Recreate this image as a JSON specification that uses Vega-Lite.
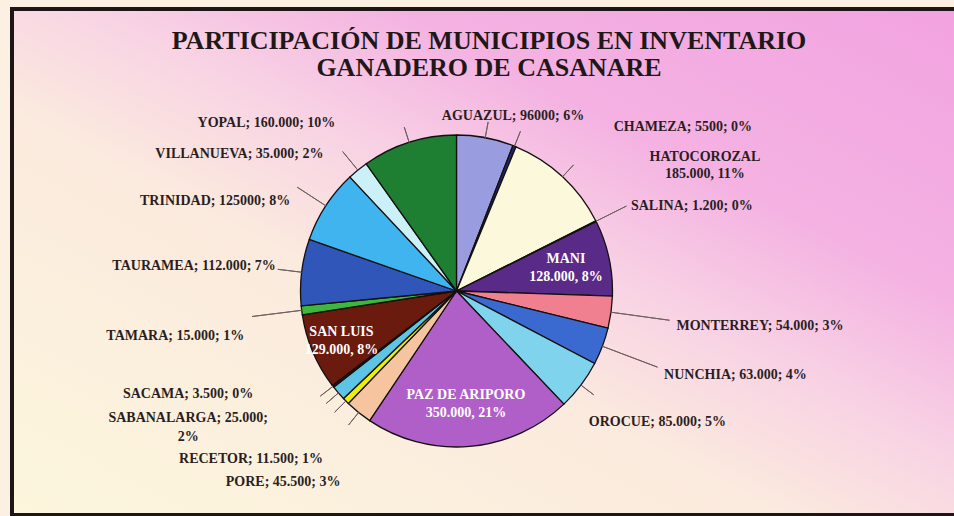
{
  "$schema": "https://vega.github.io/schema/vega-lite/v6.json",
  "autosize": {"type": "fit", "contains": "padding"},
  "width": 954,
  "height": 516,
  "padding": {"left": 12, "top": 9, "right": -20, "bottom": -17},
  "background": "#fbf0e2",
  "view": {
    "fill": {
      "gradient": "linear", "x1": 0, "y1": 1, "x2": 1, "y2": 0,
      "stops": [
        {"offset": 0, "color": "#fcf6dc"},
        {"offset": 0.4, "color": "#fbeade"},
        {"offset": 0.55, "color": "#f8d2e4"},
        {"offset": 0.7, "color": "#f4b2e2"},
        {"offset": 1, "color": "#f2a2e0"}
      ]
    },
    "stroke": "#1e1616",
    "strokeWidth": 4
  },
  "title": {
    "text": ["PARTICIPACIÓN DE MUNICIPIOS EN INVENTARIO", "GANADERO DE CASANARE"],
    "font": "Liberation Serif",
    "fontSize": 26,
    "fontWeight": "bold",
    "color": "#1e1818",
    "lineHeight": 27,
    "anchor": "middle",
    "offset": -72,
    "dx": -4
  },
  "config": {
    "text": {
      "font": "Liberation Serif",
      "fontSize": 14,
      "fontWeight": "bold",
      "fill": "#2a1e1e",
      "baseline": "middle",
      "lineBreak": "\n",
      "lineHeight": 18
    }
  },
  "data": {
    "values": [
      {"municipio": "AGUAZUL", "valor": 96000, "etiqueta": "AGUAZUL; 96000; 6%"},
      {"municipio": "CHAMEZA", "valor": 5500, "etiqueta": "CHAMEZA; 5500; 0%"},
      {"municipio": "HATOCOROZAL", "valor": 185000, "etiqueta": "HATOCOROZAL\n185.000, 11%"},
      {"municipio": "LA SALINA", "valor": 1200, "etiqueta": "SALINA; 1.200; 0%"},
      {"municipio": "MANI", "valor": 128000, "etiqueta": "MANI\n128.000, 8%"},
      {"municipio": "MONTERREY", "valor": 54000, "etiqueta": "MONTERREY; 54.000; 3%"},
      {"municipio": "NUNCHIA", "valor": 63000, "etiqueta": "NUNCHIA; 63.000; 4%"},
      {"municipio": "OROCUE", "valor": 85000, "etiqueta": "OROCUE; 85.000; 5%"},
      {"municipio": "PAZ DE ARIPORO", "valor": 350000, "etiqueta": "PAZ DE ARIPORO\n350.000, 21%"},
      {"municipio": "PORE", "valor": 45500, "etiqueta": "PORE; 45.500; 3%"},
      {"municipio": "RECETOR", "valor": 11500, "etiqueta": "RECETOR; 11.500; 1%"},
      {"municipio": "SABANALARGA", "valor": 25000, "etiqueta": "SABANALARGA; 25.000;\n2%"},
      {"municipio": "SACAMA", "valor": 3500, "etiqueta": "SACAMA; 3.500; 0%"},
      {"municipio": "SAN LUIS", "valor": 129000, "etiqueta": "SAN LUIS\n129.000, 8%"},
      {"municipio": "TAMARA", "valor": 15000, "etiqueta": "TAMARA; 15.000; 1%"},
      {"municipio": "TAURAMEA", "valor": 112000, "etiqueta": "TAURAMEA; 112.000; 7%"},
      {"municipio": "TRINIDAD", "valor": 125000, "etiqueta": "TRINIDAD; 125000; 8%"},
      {"municipio": "VILLANUEVA", "valor": 35000, "etiqueta": "VILLANUEVA; 35.000; 2%"},
      {"municipio": "YOPAL", "valor": 160000, "etiqueta": "YOPAL; 160.000; 10%"}
    ]
  },
  "encoding": {
    "theta": {"field": "valor", "type": "quantitative", "stack": true},
    "order": {"field": "municipio", "type": "ordinal", "sort": "ascending"},
    "detail": {"field": "municipio", "type": "nominal"}
  },
  "layer": [
    {
      "mark": {"type": "arc", "radius": 156, "stroke": "#141010", "strokeWidth": 1.3,
               "x": {"expr": "width/2-36.5"}, "y": {"expr": "height/2+29"}},
      "encoding": {
        "color": {
          "field": "municipio", "type": "nominal", "legend": null,
          "scale": {
            "domain": ["AGUAZUL", "CHAMEZA", "HATOCOROZAL", "LA SALINA", "MANI", "MONTERREY", "NUNCHIA", "OROCUE", "PAZ DE ARIPORO", "PORE", "RECETOR", "SABANALARGA", "SACAMA", "SAN LUIS", "TAMARA", "TAURAMEA", "TRINIDAD", "VILLANUEVA", "YOPAL"],
            "range": ["#9a9ce0", "#1c2a6a", "#fbf8dc", "#1f5a5a", "#5a2a88", "#f07f90", "#3a6ad0", "#80d3ec", "#b05ec8", "#f7c4a0", "#eef000", "#5cc4e4", "#2a1a22", "#6b1a0e", "#3cb83c", "#2f56b8", "#40b4ee", "#ccf0f8", "#1e7e32"]
          }
        }
      }
    },
    {
      "mark": {"type": "arc", "radius": 172, "radius2": 156, "padAngle": 3, "filled": false, "stroke": "#6e6060", "strokeWidth": 1,
               "x": {"expr": "width/2-36.5"}, "y": {"expr": "height/2+29"}},
      "encoding": {"strokeOpacity": {"condition": {"test": "indexof(['CHAMEZA','HATOCOROZAL','OROCUE','AGUAZUL','YOPAL','SACAMA','SABANALARGA','RECETOR','PORE'], datum.municipio) >= 0", "value": 1}, "value": 0}}
    },
    {
      "mark": {"type": "arc", "radius": 180, "radius2": 156, "padAngle": 3, "filled": false, "stroke": "#6e6060", "strokeWidth": 1,
               "x": {"expr": "width/2-36.5"}, "y": {"expr": "height/2+29"}},
      "encoding": {"strokeOpacity": {"condition": {"test": "indexof(['VILLANUEVA','TAURAMEA'], datum.municipio) >= 0", "value": 1}, "value": 0}}
    },
    {
      "mark": {"type": "arc", "radius": 190, "radius2": 156, "padAngle": 3, "filled": false, "stroke": "#6e6060", "strokeWidth": 1,
               "x": {"expr": "width/2-36.5"}, "y": {"expr": "height/2+29"}},
      "encoding": {"strokeOpacity": {"condition": {"test": "indexof(['LA SALINA','TRINIDAD'], datum.municipio) >= 0", "value": 1}, "value": 0}}
    },
    {
      "mark": {"type": "arc", "radius": 206, "radius2": 156, "padAngle": 3, "filled": false, "stroke": "#6e6060", "strokeWidth": 1,
               "x": {"expr": "width/2-36.5"}, "y": {"expr": "height/2+29"}},
      "encoding": {"strokeOpacity": {"condition": {"test": "datum.municipio === 'TAMARA'", "value": 1}, "value": 0}}
    },
    {
      "mark": {"type": "arc", "radius": 215, "radius2": 156, "padAngle": 3, "filled": false, "stroke": "#6e6060", "strokeWidth": 1,
               "x": {"expr": "width/2-36.5"}, "y": {"expr": "height/2+29"}},
      "encoding": {"strokeOpacity": {"condition": {"test": "indexof(['MONTERREY','NUNCHIA'], datum.municipio) >= 0", "value": 1}, "value": 0}}
    },
    {
      "mark": {"type": "text", "radius": 222, "align": "left", "dy": 5, "x": {"expr": "width/2-36.5"}, "y": {"expr": "height/2+29"}},
      "encoding": {"text": {"condition": {"test": "indexof(['MONTERREY','NUNCHIA'], datum.municipio) >= 0", "field": "etiqueta"}, "value": ""}}
    },
    {
      "mark": {"type": "text", "radius": 195, "align": "left", "dy": 2, "x": {"expr": "width/2-36.5"}, "y": {"expr": "height/2+29"}},
      "encoding": {"text": {"condition": {"test": "datum.municipio === 'LA SALINA'", "field": "etiqueta"}, "value": ""}}
    },
    {
      "mark": {"type": "text", "radius": 178, "align": "left", "dx": 91, "dy": 1, "x": {"expr": "width/2-36.5"}, "y": {"expr": "height/2+29"}},
      "encoding": {"text": {"condition": {"test": "datum.municipio === 'CHAMEZA'", "field": "etiqueta"}, "value": ""}}
    },
    {
      "mark": {"type": "text", "radius": 180, "align": "center", "dx": 126, "dy": -2, "lineHeight": 17, "x": {"expr": "width/2-36.5"}, "y": {"expr": "height/2+29"}},
      "encoding": {"text": {"condition": {"test": "datum.municipio === 'HATOCOROZAL'", "field": "etiqueta"}, "value": ""}}
    },
    {
      "mark": {"type": "text", "radius": 186, "align": "left", "dx": -16, "dy": 19, "x": {"expr": "width/2-36.5"}, "y": {"expr": "height/2+29"}},
      "encoding": {"text": {"condition": {"test": "datum.municipio === 'OROCUE'", "field": "etiqueta"}, "value": ""}}
    },
    {
      "mark": {"type": "text", "radius": 182, "align": "center", "dx": 23, "dy": 4, "x": {"expr": "width/2-36.5"}, "y": {"expr": "height/2+29"}},
      "encoding": {"text": {"condition": {"test": "datum.municipio === 'AGUAZUL'", "field": "etiqueta"}, "value": ""}}
    },
    {
      "mark": {"type": "text", "radius": 175, "align": "right", "dx": -68, "dy": -1, "x": {"expr": "width/2-36.5"}, "y": {"expr": "height/2+29"}},
      "encoding": {"text": {"condition": {"test": "datum.municipio === 'YOPAL'", "field": "etiqueta"}, "value": ""}}
    },
    {
      "mark": {"type": "text", "radius": 185, "align": "right", "dx": -16, "dy": 6, "x": {"expr": "width/2-36.5"}, "y": {"expr": "height/2+29"}},
      "encoding": {"text": {"condition": {"test": "datum.municipio === 'VILLANUEVA'", "field": "etiqueta"}, "value": ""}}
    },
    {
      "mark": {"type": "text", "radius": 195, "align": "right", "dx": -3, "dy": 16, "x": {"expr": "width/2-36.5"}, "y": {"expr": "height/2+29"}},
      "encoding": {"text": {"condition": {"test": "datum.municipio === 'TRINIDAD'", "field": "etiqueta"}, "value": ""}}
    },
    {
      "mark": {"type": "text", "radius": 182, "align": "right", "dy": -3, "x": {"expr": "width/2-36.5"}, "y": {"expr": "height/2+29"}},
      "encoding": {"text": {"condition": {"test": "datum.municipio === 'TAURAMEA'", "field": "etiqueta"}, "value": ""}}
    },
    {
      "mark": {"type": "text", "radius": 212, "align": "right", "dx": -2, "dy": 19, "x": {"expr": "width/2-36.5"}, "y": {"expr": "height/2+29"}},
      "encoding": {"text": {"condition": {"test": "datum.municipio === 'TAMARA'", "field": "etiqueta"}, "value": ""}}
    },
    {
      "mark": {"type": "text", "radius": 200, "align": "right", "dx": -45, "dy": -19, "x": {"expr": "width/2-36.5"}, "y": {"expr": "height/2+29"}},
      "encoding": {"text": {"condition": {"test": "datum.municipio === 'SACAMA'", "field": "etiqueta"}, "value": ""}}
    },
    {
      "mark": {"type": "text", "radius": 200, "align": "center", "dx": -117, "dy": -4, "lineHeight": 19, "x": {"expr": "width/2-36.5"}, "y": {"expr": "height/2+29"}},
      "encoding": {"text": {"condition": {"test": "datum.municipio === 'SABANALARGA'", "field": "etiqueta"}, "value": ""}}
    },
    {
      "mark": {"type": "text", "radius": 215, "align": "right", "dx": 19, "dy": 16, "x": {"expr": "width/2-36.5"}, "y": {"expr": "height/2+29"}},
      "encoding": {"text": {"condition": {"test": "datum.municipio === 'RECETOR'", "field": "etiqueta"}, "value": ""}}
    },
    {
      "mark": {"type": "text", "radius": 220, "align": "right", "dx": 22, "dy": 20, "x": {"expr": "width/2-36.5"}, "y": {"expr": "height/2+29"}},
      "encoding": {"text": {"condition": {"test": "datum.municipio === 'PORE'", "field": "etiqueta"}, "value": ""}}
    },
    {
      "mark": {"type": "text", "radius": 112, "align": "center", "dy": -8, "fill": "#ffffff", "x": {"expr": "width/2-36.5"}, "y": {"expr": "height/2+29"}},
      "encoding": {"text": {"condition": {"test": "indexof(['MANI','PAZ DE ARIPORO'], datum.municipio) >= 0", "field": "etiqueta"}, "value": ""}}
    },
    {
      "mark": {"type": "text", "radius": 125, "align": "center", "dy": -8, "fill": "#ffffff", "x": {"expr": "width/2-36.5"}, "y": {"expr": "height/2+29"}},
      "encoding": {"text": {"condition": {"test": "datum.municipio === 'SAN LUIS'", "field": "etiqueta"}, "value": ""}}
    }
  ]
}
